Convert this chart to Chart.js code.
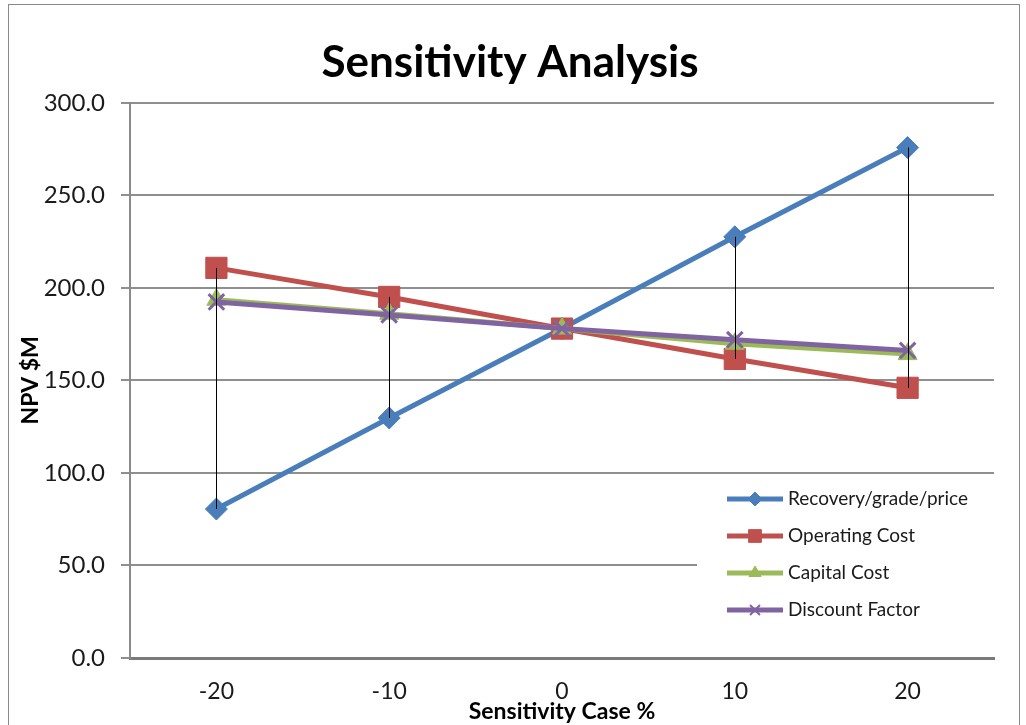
<!DOCTYPE html>
<html>
<head>
<meta charset="utf-8">
<script src="https://cdn.jsdelivr.net/npm/chart.js@4/dist/chart.umd.min.js"></script>
<style>
  html,body{margin:0;padding:0;background:#fff;}
  #wrap{position:relative;width:1026px;height:725px;overflow:hidden;}
  #frame{position:absolute;left:8px;top:4px;width:1010px;height:740px;border:1px solid #8a8a8a;}
  #c{position:absolute;left:0;top:0;}
</style>
</head>
<body>
<div id="wrap">
  <div id="frame"></div>
  <canvas id="c" width="1026" height="725"></canvas>
</div>
<script>
// sensitivity case (x axis)
var cases=['-20','-10','0','10','20']

// NPV $M per case
var recovery=[80.5,129.7,178.0,227.6,275.8]
var operating=[210.8,195.1,178.0,161.6,146.0]
var capital=[193.6,186.0,178.0,169.8,164.2]
var discount=[192.4,185.4,178.0,172.0,166.2]

var seriesNames=['Recovery/grade/price','Operating Cost','Capital Cost','Discount Factor']

var BLUE='#4a7ebb', RED='#c0504d', GREEN='#9bbb59', PURPLE='#8064a2'
var FONT='Lato, "Open Sans", sans-serif'

// black high-low lines between the max and min series at each case
var hiLoLines={
    id:'hiLoLines',
    afterDatasetsDraw:function(chart){
        var ctx=chart.ctx, xs=chart.scales.x, ys=chart.scales.y
        var sets=chart.data.datasets
        ctx.save()
        ctx.strokeStyle='#000'
        ctx.lineWidth=1
        for(var i=0;i<cases.length;i++){
            var vals=sets.map(function(d){return d.data[i]})
            var hi=Math.max.apply(null,vals), lo=Math.min.apply(null,vals)
            if(hi-lo<0.5) continue
            var x=Math.round(xs.getPixelForValue(i))+0.5
            ctx.beginPath()
            ctx.moveTo(x,ys.getPixelForValue(hi))
            ctx.lineTo(x,ys.getPixelForValue(lo))
            ctx.stroke()
        }
        ctx.restore()
    }
}

// legend box sitting inside the plot, bottom right
var boxLegend={
    id:'boxLegend',
    afterDatasetsDraw:function(chart){
        var ctx=chart.ctx, a=chart.chartArea
        var left=a.right-297, top=a.bottom-178, right=a.right+2, bottom=a.bottom-18
        ctx.save()
        ctx.fillStyle='#fff'
        ctx.fillRect(left,top,right-left,bottom-top)
        var sets=chart.data.datasets
        var legendRadius=[7,9,7,7]
        for(var i=0;i<sets.length;i++){
            var d=sets[i]
            var y=top+19+i*37
            ctx.strokeStyle=d.borderColor
            ctx.lineWidth=5
            ctx.beginPath()
            ctx.moveTo(left+30,y)
            ctx.lineTo(left+86,y)
            ctx.stroke()
            ctx.fillStyle=d.borderColor
            ctx.lineWidth=d.pointStyle==='crossRot'?2:1
            Chart.helpers.drawPoint(ctx,{pointStyle:d.pointStyle,radius:legendRadius[i],rotation:0,borderWidth:ctx.lineWidth},left+58,y)
            ctx.fillStyle='#1a1a1a'
            ctx.font='19px '+FONT
            ctx.textBaseline='middle'
            ctx.fillText(seriesNames[i],left+91,y)
        }
        ctx.restore()
    }
}

function series(label,data,color,style,radius,order,bw){
    return {
        label:label,data:data,
        borderColor:color,backgroundColor:color,
        pointBackgroundColor:color,pointBorderColor:color,
        pointStyle:style,pointRadius:radius,pointHoverRadius:radius,
        pointBorderWidth:bw,
        borderWidth:5,tension:0,order:order
    }
}

new Chart(document.getElementById('c'),{
    type:'line',
    data:{
        labels:cases,
        datasets:[
            series(seriesNames[0],recovery,BLUE,'rectRot',11,4,1),
            series(seriesNames[1],operating,RED,'rect',15,3,1),
            series(seriesNames[2],capital,GREEN,'triangle',11,2,1),
            series(seriesNames[3],discount,PURPLE,'crossRot',11,1,3)
        ]
    },
    options:{
        responsive:false,
        animation:false,
        layout:{padding:{left:26,right:32,top:0,bottom:0}},
        plugins:{
            legend:{display:false},
            tooltip:{enabled:false},
            title:{
                display:true,
                text:'Sensitivity Analysis',
                color:'#000',
                font:{family:FONT,size:44,weight:'bold'},
                padding:{top:36,bottom:14}
            }
        },
        scales:{
            x:{
                type:'category',
                offset:true,
                grid:{display:false,drawTicks:false},
                border:{display:true,color:'#7a7a7a',width:3},
                ticks:{color:'#1a1a1a',font:{family:FONT,size:23},padding:20,maxRotation:0},
                title:{display:true,text:'Sensitivity Case %',color:'#000',
                    font:{family:FONT,size:23,weight:'bold'},padding:{top:0,bottom:0}},
                afterFit:function(s){s.height=67}
            },
            y:{
                min:0,max:300,
                grid:{color:'#8f8f8f',lineWidth:2,drawTicks:true,tickLength:9},
                border:{display:true,color:'#8a8a8a',width:2},
                ticks:{stepSize:50,color:'#1a1a1a',font:{family:FONT,size:24},padding:16,
                    callback:function(v){return v.toFixed(1)}},
                title:{display:true,text:'NPV $M',color:'#000',
                    font:{family:FONT,size:23,weight:'bold'},padding:{top:-9,bottom:0}},
                afterFit:function(s){s.width=104}
            }
        }
    },
    plugins:[hiLoLines,boxLegend]
})
</script>
</body>
</html>
